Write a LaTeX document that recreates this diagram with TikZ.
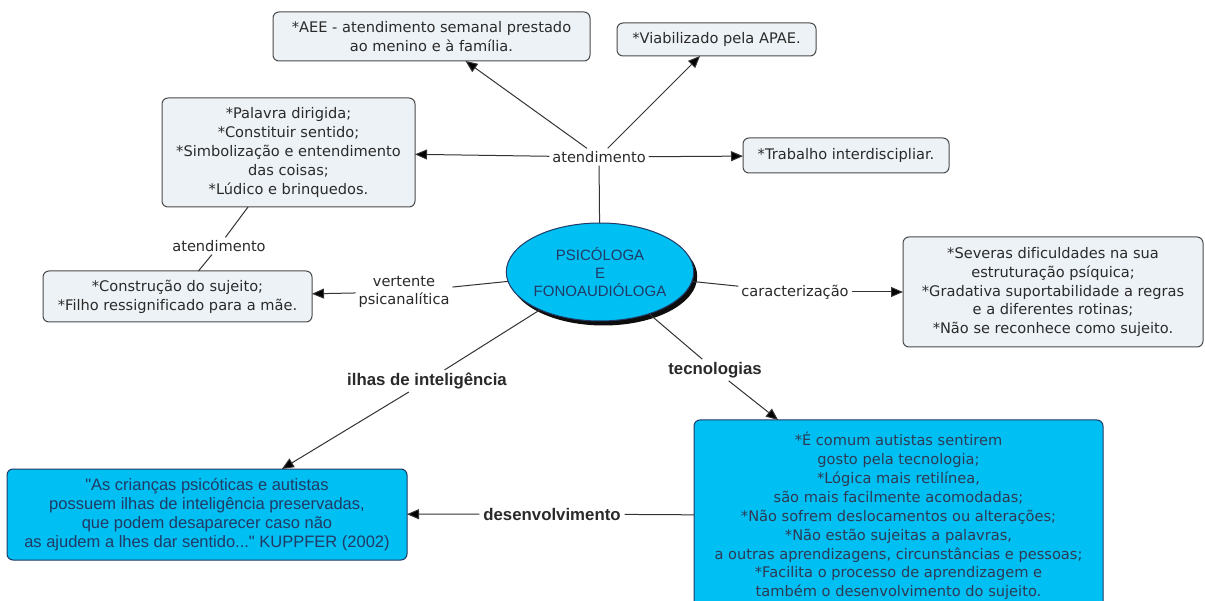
\documentclass[tikz,border=0pt]{standalone}
\usepackage{fontspec}
\setmainfont[Ligatures=NoCommon]{DejaVu Sans}
\newfontfamily\arialf[Ligatures=NoCommon]{Liberation Sans}
\usetikzlibrary{arrows.meta,shapes.geometric,shadows}

\definecolor{cyanfill}{HTML}{00BFF2}
\definecolor{palefill}{HTML}{EDF2F6}
\definecolor{boxline}{HTML}{4A4A4A}
\definecolor{navy}{HTML}{213A66}
\definecolor{inktext}{HTML}{2A2A2A}
\definecolor{bluetext}{HTML}{2E3A55}

\begin{document}
\begin{tikzpicture}[x=1pt,y=-1pt,
  every node/.style={inner sep=0pt, outer sep=0pt},
  concept/.style={draw=boxline, line width=1pt, fill=palefill, rounded corners=6pt,
    align=center, text=inktext, font=\fontsize{14.6}{18.9}\selectfont},
  bluebox/.style={draw=navy, line width=1pt, fill=cyanfill, rounded corners=6pt, align=center},
  linklab/.style={inner sep=3pt, align=center, text=inktext, font=\fontsize{14.6}{18.9}\selectfont},
  boldlab/.style={inner sep=3pt, text=inktext, font=\arialf\bfseries\fontsize{16.8}{20}\selectfont},
  conn/.style={draw=black!80, line width=1pt},
  arr/.style={conn, -{Triangle[length=12pt,width=10pt,fill=black]}},
]
\useasboundingbox (0,0) rectangle (1205,601);
\clip (0,0) rectangle (1205,601);
\fill[white] (0,0) rectangle (1205,601);

% central concept
\node[ellipse, minimum width=186pt, minimum height=98pt, draw=navy, line width=1pt,
  fill=cyanfill, drop shadow={shadow xshift=3.5pt, shadow yshift=-4.5pt, fill=black, opacity=0.95},
  align=center, text=navy, font=\arialf\fontsize{15}{18}\selectfont]
  (ell) at (600,272) {PSICÓLOGA\\E\\FONOAUDIÓLOGA};

% concepts around the centre
\node[concept, minimum width=317pt, minimum height=49pt] (aee) at (431.5,36.5)
  {*AEE - atendimento semanal prestado\\ao menino e à família.};
\node[concept, minimum width=199pt, minimum height=33pt] (viab) at (716.5,39.5)
  {*Viabilizado pela APAE.};
\node[concept, minimum width=206pt, minimum height=35pt] (trab) at (846,155.5)
  {*Trabalho interdiscipliar.};
\node[concept, minimum width=253pt, minimum height=109pt] (palavra) at (288.5,152.5)
  {*Palavra dirigida;\\*Constituir sentido;\\*Simbolização e entendimento\\das coisas;\\*Lúdico e brinquedos.};
\node[concept, minimum width=269pt, minimum height=51pt] (constr) at (177.5,296.5)
  {*Construção do sujeito;\\*Filho ressignificado para a mãe.};
\node[concept, minimum width=300pt, minimum height=110pt] (severas) at (1053,292)
  {*Severas dificuldades na sua\\estruturação psíquica;\\*Gradativa suportabilidade a regras\\e a diferentes rotinas;\\*Não se reconhece como sujeito.};
\node[bluebox, minimum width=409pt, minimum height=192pt, text=bluetext,
  font=\fontsize{14.6}{18.9}\selectfont] (tecbox) at (898.5,516)
  {*É comum autistas sentirem\\gosto pela tecnologia;\\*Lógica mais retilínea,\\são mais facilmente acomodadas;\\*Não sofrem deslocamentos ou alterações;\\*Não estão sujeitas a palavras,\\a outras aprendizagens, circunstâncias e pessoas;\\*Facilita o processo de aprendizagem e\\também o desenvolvimento do sujeito.};
\node[bluebox, minimum width=400pt, minimum height=91pt, text=navy,
  font=\arialf\fontsize{16.5}{19}\selectfont] (quote) at (207,514.5)
  {"As crianças psicóticas e autistas\\possuem ilhas de inteligência preservadas,\\que podem desaparecer caso não\\as ajudem a lhes dar sentido..." KUPPFER (2002)};

% linking phrases
\node[linklab] (atdtop) at (599,157) {atendimento};
\node[linklab] (atdleft) at (219,246) {atendimento};
\node[linklab, font=\fontsize{14.6}{18.5}\selectfont] (vert) at (404,292) {vertente\\psicanalítica};
\node[linklab] (carac) at (795,292) {caracterização};
\node[boldlab] (ilhas) at (427,381) {ilhas de inteligência};
\node[boldlab] (tecl) at (715,370) {tecnologias};
\node[boldlab, inner xsep=4pt] (desenv) at (552,514) {desenvolvimento};

% connectors
\draw[conn] (ell) -- (atdtop);
\draw[arr] (atdtop) -- (aee);
\draw[arr] (atdtop) -- (viab);
\draw[arr] (atdtop) -- (palavra);
\draw[arr] (atdtop) -- (trab);
\draw[conn] (palavra) -- (atdleft);
\draw[conn] (atdleft) -- (constr);
\draw[conn] (ell) -- (vert);
\draw[arr] (vert) -- (constr);
\draw[conn] (ell) -- (carac);
\draw[arr] (carac) -- (severas);
\draw[conn] (ell) -- (ilhas);
\draw[arr] (ilhas) -- (quote);
\draw[conn] (ell) -- (tecl);
\draw[arr] (tecl) -- (tecbox);
\draw[conn] (tecbox) -- (desenv);
\draw[arr] (desenv) -- (quote);
\end{tikzpicture}
\end{document}
